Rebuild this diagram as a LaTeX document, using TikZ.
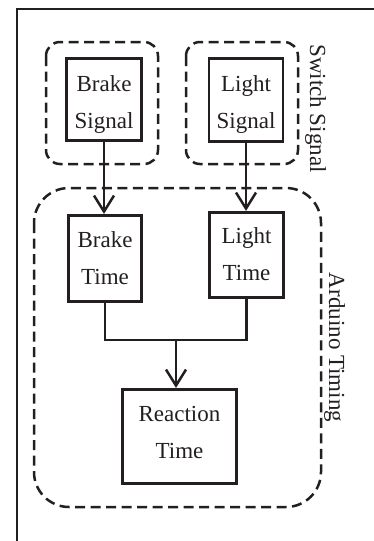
\documentclass[tikz,border=0pt]{standalone}
\usepackage{fontspec}
\setmainfont{Liberation Serif}
\usetikzlibrary{arrows.meta}
\definecolor{ink}{RGB}{35,31,32}
\newcommand\lnstrut[1]{\rule[-#1pt]{0pt}{30pt}}
\begin{document}
\begin{tikzpicture}[x=1pt,y=-1pt,
  blk/.style={draw=ink, text=ink, line width=2.7pt, align=center, inner sep=0pt, font=\fontsize{23}{37}\selectfont},
  grp/.style={draw=ink, line width=2.5pt, dash pattern=on 10pt off 5.5pt, rounded corners=#1},
  wire/.style={draw=ink, line width=2.5pt},
  conn/.style={wire, -{Straight Barb[length=16pt,width=20pt,line width=2.5pt]}},
  lbl/.style={text=ink, font=\fontsize{23}{28}\selectfont, rotate=-90, anchor=base, inner sep=0pt}]
\useasboundingbox (0,0) rectangle (373,541);
% outer frame
\draw[ink, line width=2.7pt] (17,545) -- (17,9) -- (377,9);
% group boxes
\draw[grp=14pt] (46,42) rectangle (158,164);
\draw[grp=14pt] (186,42) rectangle (298,164);
\draw[grp=35pt] (34,188) rectangle (321,507);
% blocks
\node[blk, minimum width=75.5pt, minimum height=82pt] (bs) at (104,99.75) {\lnstrut{5.25}Brake\\\lnstrut{5.25}Signal};
\node[blk, minimum width=74pt, minimum height=83.5pt] (ls) at (246,100) {\lnstrut{5.25}Light\\\lnstrut{5.25}Signal};
\node[blk, minimum width=73.5pt, minimum height=86.5pt] (bt) at (105,258.5) {\lnstrut{7.75}Brake\\\lnstrut{7.75}Time};
\node[blk, minimum width=74.5pt, minimum height=85.5pt] (lt) at (246.5,255) {\lnstrut{7.75}Light\\\lnstrut{7.75}Time};
\node[blk, minimum width=114.5pt, minimum height=94.5pt] (rt) at (179.5,436.5) {\lnstrut{12}Reaction\\\lnstrut{12}Time};
% labels
\node[lbl] (sw) at (310,108.5) {Switch Signal};
\node[lbl] (ard) at (329,347.5) {Arduino Timing};
% connectors
\draw[conn] (bs.south) -- (bs.south |- bt.north);
\draw[conn] (ls.south) -- (ls.south |- lt.north);
\coordinate (j) at (176,340);
\draw[wire] (bt.south) |- (lt.south |- j) -- (lt.south);
\draw[conn] (j) -- (j |- rt.north);
\end{tikzpicture}
\end{document}
